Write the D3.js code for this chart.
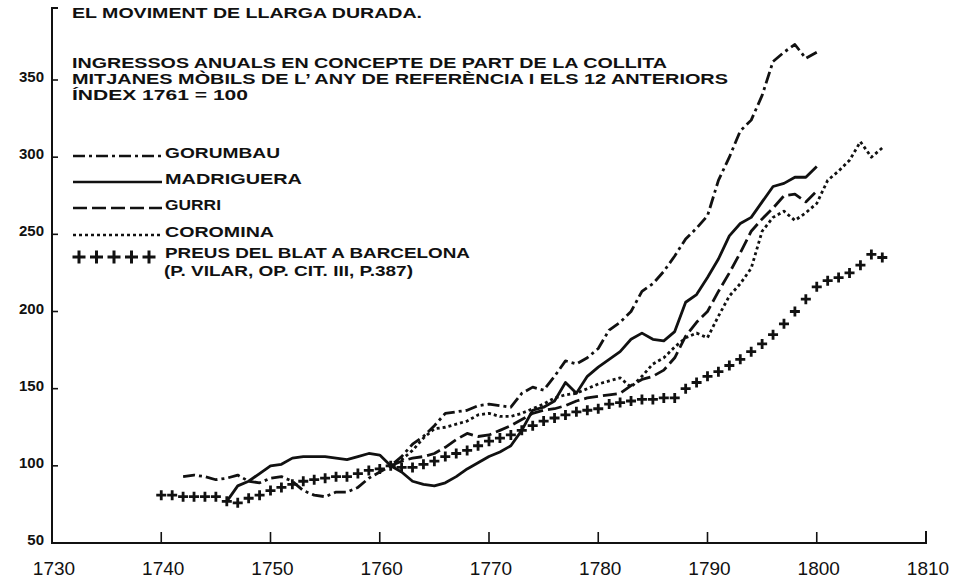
<!DOCTYPE html>
<html lang="ca">
  <head>
    <meta charset="utf-8"/>
    <title>El moviment de llarga durada</title>
    <script src="https://cdn.jsdelivr.net/npm/d3@7"></script>
    <style>
     body { margin: 0; background: #fff; }
     svg { display: block; }
     text { font-family: "Liberation Sans", Arial, sans-serif; fill: #111; }
    </style>
  </head>
  <body>
    <script>
     // data (index 1761 = 100) ----------------------------------------------------------
     const xTicks = [1730, 1740, 1750, 1760, 1770, 1780, 1790, 1800, 1810];
     const yTicks = [50, 100, 150, 200, 250, 300, 350];

     const gorumbauStart = 1742;
     const gorumbau = [93, 94, 93, 91, 92, 94, 90, 89, 92, 93,
                       90, 84, 81, 80, 83, 83, 86, 92, 96, 100,
                       106, 114, 119, 126, 134, 135, 136, 139, 140, 139,
                       138, 147, 151, 149, 158, 168, 166, 170, 176, 188,
                       193, 200, 213, 218, 226, 236, 247, 254, 262, 285,
                       300, 317, 324, 340, 362, 368, 373, 364, 368];

     const madrigueraStart = 1746;
     const madriguera = [77, 87, 90, 95, 100, 101, 105, 106, 106, 106,
                         105, 104, 106, 108, 107, 100, 96, 90, 88, 87,
                         89, 93, 98, 102, 106, 109, 113, 123, 136, 138,
                         142, 154, 147, 158, 164, 169, 174, 182, 186, 182,
                         181, 187, 206, 211, 222, 234, 249, 257, 261, 271,
                         281, 283, 287, 287, 294];

     const gurriStart = 1761;
     const gurri = [100, 103, 105, 106, 108, 112, 117, 121, 119, 120,
                    123, 126, 130, 134, 136, 137, 139, 142, 144, 145,
                    146, 147, 152, 156, 158, 162, 170, 184, 193, 200,
                    213, 225, 238, 252, 260, 267, 275, 276, 271, 278];

     const corominaStart = 1761;
     const coromina = [100, 104, 110, 118, 124, 125, 127, 129, 133, 134,
                       132, 132, 134, 137, 140, 144, 146, 147, 150, 153,
                       155, 157, 151, 158, 166, 170, 177, 183, 186, 183,
                       197, 210, 218, 228, 252, 261, 265, 259, 264, 270,
                       285, 291, 298, 310, 300, 306];

     const blatStart = 1740;
     const blat = [81, 81, 80, 80, 80, 80, 77, 76, 79, 81,
                   84, 86, 88, 90, 91, 92, 93, 93, 95, 97,
                   98, 100, 99, 99, 101, 103, 106, 108, 110, 113,
                   116, 118, 120, 123, 126, 129, 131, 133, 135, 136,
                   137, 140, 141, 142, 143, 143, 144, 144, 150, 154,
                   158, 161, 165, 169, 174, 179, 185, 192, 200, 208,
                   216, 220, 222, 225, 230, 237, 235];

     const titleLines = ["EL MOVIMENT DE LLARGA DURADA.",
                         "INGRESSOS  ANUALS EN CONCEPTE DE PART DE LA COLLITA",
                         "MITJANES MÒBILS DE L’ ANY DE REFERÈNCIA I ELS 12 ANTERIORS",
                         "ÍNDEX 1761 = 100"];
     const legendNames = ["GORUMBAU", "MADRIGUERA", "GURRI", "COROMINA", "PREUS DEL BLAT A BARCELONA"];
     const sourceNote = "(P. VILAR, OP. CIT. III, P.387)";

     // turn start year + values into points
     const toPoints = (start, values) => values.map((v, i) => ({year: start + i, value: v}));

     // svg + scales ---------------------------------------------------------------------
     let w = 956, h = 585;
     let svg = d3.select("body").append("svg")
                 .attr("width", w)
                 .attr("height", h);

     let x = d3.scaleLinear().domain([1730, 1810]).range([52, 926]);
     let y = d3.scaleLinear().domain([50, 350]).range([543, 80]);

     // axes, drawn by hand to look like the printed ones
     svg.append("path")
        .attr("d", "M58," + 8 + "H52V" + y(50) + "H" + x(1810) + "V" + (y(50) - 12))
        .attr("fill", "none")
        .attr("stroke", "#111")
        .attr("stroke-width", 2);

     svg.selectAll(".xtick")
        .data(xTicks.slice(1, -1))
        .enter()
        .append("line")
        .attr("x1", d => x(d)).attr("x2", d => x(d))
        .attr("y1", y(50)).attr("y2", y(50) - 11)
        .attr("stroke", "#111")
        .attr("stroke-width", 1.6);

     svg.selectAll(".xlabel")
        .data(xTicks)
        .enter()
        .append("text")
        .attr("x", d => x(d) + 2)
        .attr("y", 575)
        .attr("text-anchor", "middle")
        .attr("font-size", "19px")
        .text(d => d);

     svg.selectAll(".ytick")
        .data(yTicks.slice(1))
        .enter()
        .append("line")
        .attr("x1", 52).attr("x2", 58)
        .attr("y1", d => y(d)).attr("y2", d => y(d))
        .attr("stroke", "#111")
        .attr("stroke-width", 1.6);

     svg.selectAll(".ylabel")
        .data(yTicks)
        .enter()
        .append("text")
        .attr("x", 44)
        .attr("y", d => y(d) + 2)
        .attr("text-anchor", "end")
        .attr("font-size", "15px")
        .attr("font-weight", "bold")
        .text(d => d);

     // title block
     let titleY = [18, 68, 84, 100];
     let titleW = [350, 595, 656, 176];
     svg.selectAll(".title")
        .data(titleLines)
        .enter()
        .append("text")
        .attr("x", 72)
        .attr("y", (d, i) => titleY[i])
        .attr("font-size", "15px")
        .attr("font-weight", "bold")
        .attr("textLength", (d, i) => titleW[i])
        .attr("lengthAdjust", "spacingAndGlyphs")
        .text(d => d);

     // lines ---------------------------------------------------------------------------
     let line = d3.line()
                  .x(d => x(d.year))
                  .y(d => y(d.value));

     let series = [
       {pts: toPoints(gorumbauStart, gorumbau), dash: "12,4,3,4"},
       {pts: toPoints(madrigueraStart, madriguera), dash: null},
       {pts: toPoints(gurriStart, gurri), dash: "14,5"},
       {pts: toPoints(corominaStart, coromina), dash: "3,3"}
     ];

     svg.selectAll(".series")
        .data(series)
        .enter()
        .append("path")
        .attr("d", d => line(d.pts))
        .attr("fill", "none")
        .attr("stroke", "#111")
        .attr("stroke-width", 2.8)
        .attr("stroke-linejoin", "round")
        .attr("stroke-dasharray", d => d.dash);

     // wheat prices as thin plus signs
     const plus = r => "M" + (-r) + ",0H" + r + "M0," + (-r) + "V" + r;
     svg.selectAll(".blat")
        .data(toPoints(blatStart, blat))
        .enter()
        .append("path")
        .attr("d", plus(5))
        .attr("transform", d => "translate(" + x(d.year) + "," + y(d.value) + ")")
        .attr("stroke", "#111")
        .attr("stroke-width", 2.8);

     // legend --------------------------------------------------------------------------
     let legY = [156, 182, 208, 235, 257];
     let legW = [115, 137, 56, 109, 305];
     svg.selectAll(".legline")
        .data(series)
        .enter()
        .append("line")
        .attr("x1", 73).attr("x2", 162)
        .attr("y1", (d, i) => legY[i]).attr("y2", (d, i) => legY[i])
        .attr("stroke", "#111")
        .attr("stroke-width", 2.4)
        .attr("stroke-dasharray", d => d.dash);

     svg.selectAll(".legcross")
        .data(d3.range(5))
        .enter()
        .append("path")
        .attr("d", plus(6.5))
        .attr("transform", i => "translate(" + (79 + i * 17.5) + "," + legY[4] + ")")
        .attr("stroke", "#111")
        .attr("stroke-width", 3);

     svg.selectAll(".legtext")
        .data(legendNames)
        .enter()
        .append("text")
        .attr("x", 165)
        .attr("y", (d, i) => legY[i] + 2 + (i === 4 ? -1 : 0))
        .attr("font-size", "15px")
        .attr("font-weight", "bold")
        .attr("textLength", (d, i) => legW[i])
        .attr("lengthAdjust", "spacingAndGlyphs")
        .text(d => d);

     svg.append("text")
        .attr("x", 164)
        .attr("y", 276)
        .attr("font-size", "15px")
        .attr("font-weight", "bold")
        .attr("textLength", 249)
        .attr("lengthAdjust", "spacingAndGlyphs")
        .text(sourceNote);
    </script>
  </body>
</html>
